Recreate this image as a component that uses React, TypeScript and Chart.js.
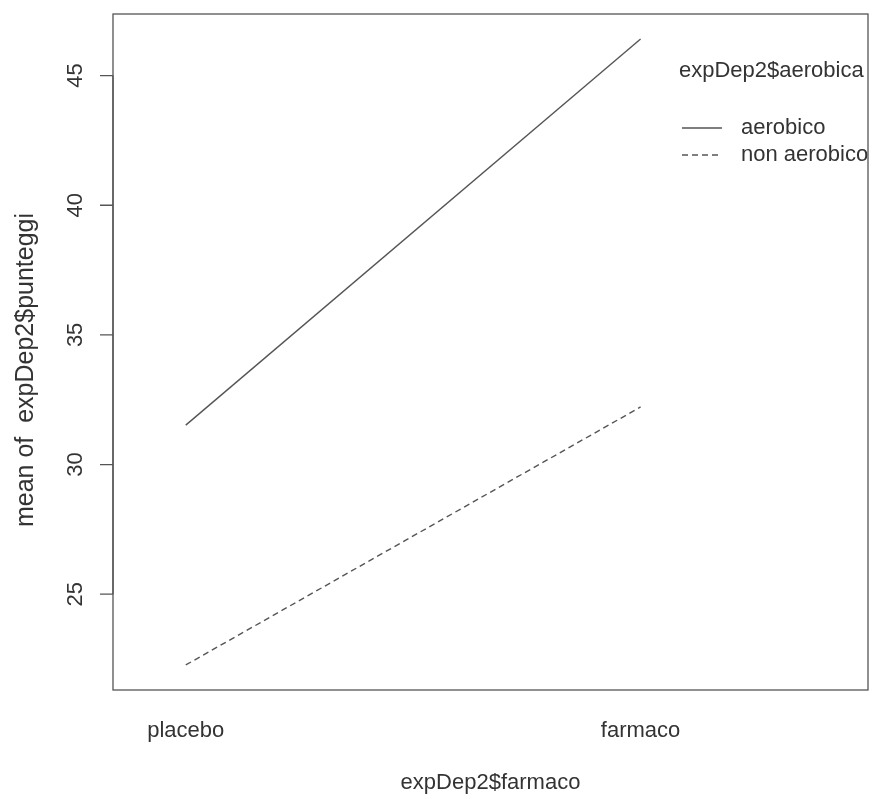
import React, { useEffect, useRef } from "react";
import { Chart, registerables } from "chart.js";

Chart.register(...registerables);

const categories = ["placebo", "farmaco"];
const categoryPositions = [1, 2];
const aerobico = [31.52, 46.41];
const nonAerobico = [22.27, 32.22];
const seriesLabels = ["aerobico", "non aerobico"];
const yTicks = [25, 30, 35, 40, 45];
const legendTitle = "expDep2$aerobica";
const xTitle = "expDep2$farmaco";
const yTitle = "mean of  expDep2$punteggi";

const FAMILY = "'Liberation Sans', Arial, sans-serif";
const FONT = "22px " + FAMILY;
const TEXT = "#333";
const LINE = "#555";

export default function App() {
  const ref = useRef<HTMLCanvasElement | null>(null);

  useEffect(() => {
    const canvas = ref.current;
    if (!canvas) return;
    const all = [...aerobico, ...nonAerobico];
    const lo = Math.min(...all);
    const hi = Math.max(...all);
    const pad = (hi - lo) * 0.04;

    const overlay = {
      id: "rstyle",
      afterDraw(chart: any) {
        const ctx = chart.ctx as CanvasRenderingContext2D;
        const { left, right, top, bottom } = chart.chartArea;
        const xs = chart.scales.x;
        const ys = chart.scales.y;
        ctx.save();
        // box
        ctx.strokeStyle = LINE;
        ctx.lineWidth = 1.3;
        ctx.setLineDash([]);
        ctx.strokeRect(left, top, right - left, bottom - top);
        // y axis line + ticks
        ctx.beginPath();
        ctx.moveTo(left, ys.getPixelForValue(yTicks[0]));
        ctx.lineTo(left, ys.getPixelForValue(yTicks[yTicks.length - 1]));
        yTicks.forEach((t) => {
          const py = ys.getPixelForValue(t);
          ctx.moveTo(left, py);
          ctx.lineTo(left - 13, py);
        });
        ctx.stroke();
        ctx.fillStyle = TEXT;
        ctx.font = FONT;
        // y tick labels rotated
        yTicks.forEach((t) => {
          const py = ys.getPixelForValue(t);
          ctx.save();
          ctx.translate(82, py);
          ctx.rotate(-Math.PI / 2);
          ctx.textAlign = "center";
          ctx.textBaseline = "alphabetic";
          ctx.fillText(String(t), 0, 0);
          ctx.restore();
        });
        // y title
        ctx.save();
        ctx.font = "25px " + FAMILY;
        ctx.translate(33, 370);
        ctx.rotate(-Math.PI / 2);
        ctx.textAlign = "center";
        ctx.textBaseline = "alphabetic";
        ctx.fillText(yTitle, 0, 0);
        ctx.restore();
        // x category labels
        ctx.textAlign = "center";
        ctx.textBaseline = "alphabetic";
        categories.forEach((c, i) => {
          ctx.fillText(c, xs.getPixelForValue(categoryPositions[i]), 737);
        });
        // x title
        ctx.fillText(xTitle, (left + right) / 2, 789);
        // legend
        ctx.textAlign = "left";
        ctx.fillText(legendTitle, 679, 77);
        ctx.textBaseline = "middle";
        const dashes = [[], [6, 4]];
        const legendY = [128, 155];
        seriesLabels.forEach((s, i) => {
          ctx.beginPath();
          ctx.setLineDash(dashes[i]);
          ctx.moveTo(682, legendY[i]);
          ctx.lineTo(722, legendY[i]);
          ctx.stroke();
          ctx.fillText(s, 741, legendY[i]);
        });
        ctx.restore();
      },
    };

    const chart = new Chart(canvas, {
      type: "line",
      data: {
        datasets: [
          {
            label: seriesLabels[0],
            data: categoryPositions.map((x, i) => ({ x, y: aerobico[i] })),
            borderColor: LINE,
            borderWidth: 1.4,
            pointRadius: 0,
            fill: false,
          },
          {
            label: seriesLabels[1],
            data: categoryPositions.map((x, i) => ({ x, y: nonAerobico[i] })),
            borderColor: LINE,
            borderWidth: 1.4,
            borderDash: [6, 4],
            pointRadius: 0,
            fill: false,
          },
        ],
      },
      options: {
        responsive: false,
        animation: false,
        devicePixelRatio: 1,
        layout: { padding: { left: 113, right: 5, top: 14, bottom: 109 } },
        scales: {
          x: { type: "linear", min: 0.84, max: 2.5, display: false },
          y: { type: "linear", min: lo - pad, max: hi + pad, display: false },
        },
        plugins: { legend: { display: false }, tooltip: { enabled: false } },
      },
      plugins: [overlay],
    });
    return () => chart.destroy();
  }, []);

  return (
    <div style={{ position: "absolute", left: 0, top: 0, width: 873, height: 799, background: "#fff" }}>
      <canvas ref={ref} width={873} height={799} style={{ display: "block" }} />
    </div>
  );
}
